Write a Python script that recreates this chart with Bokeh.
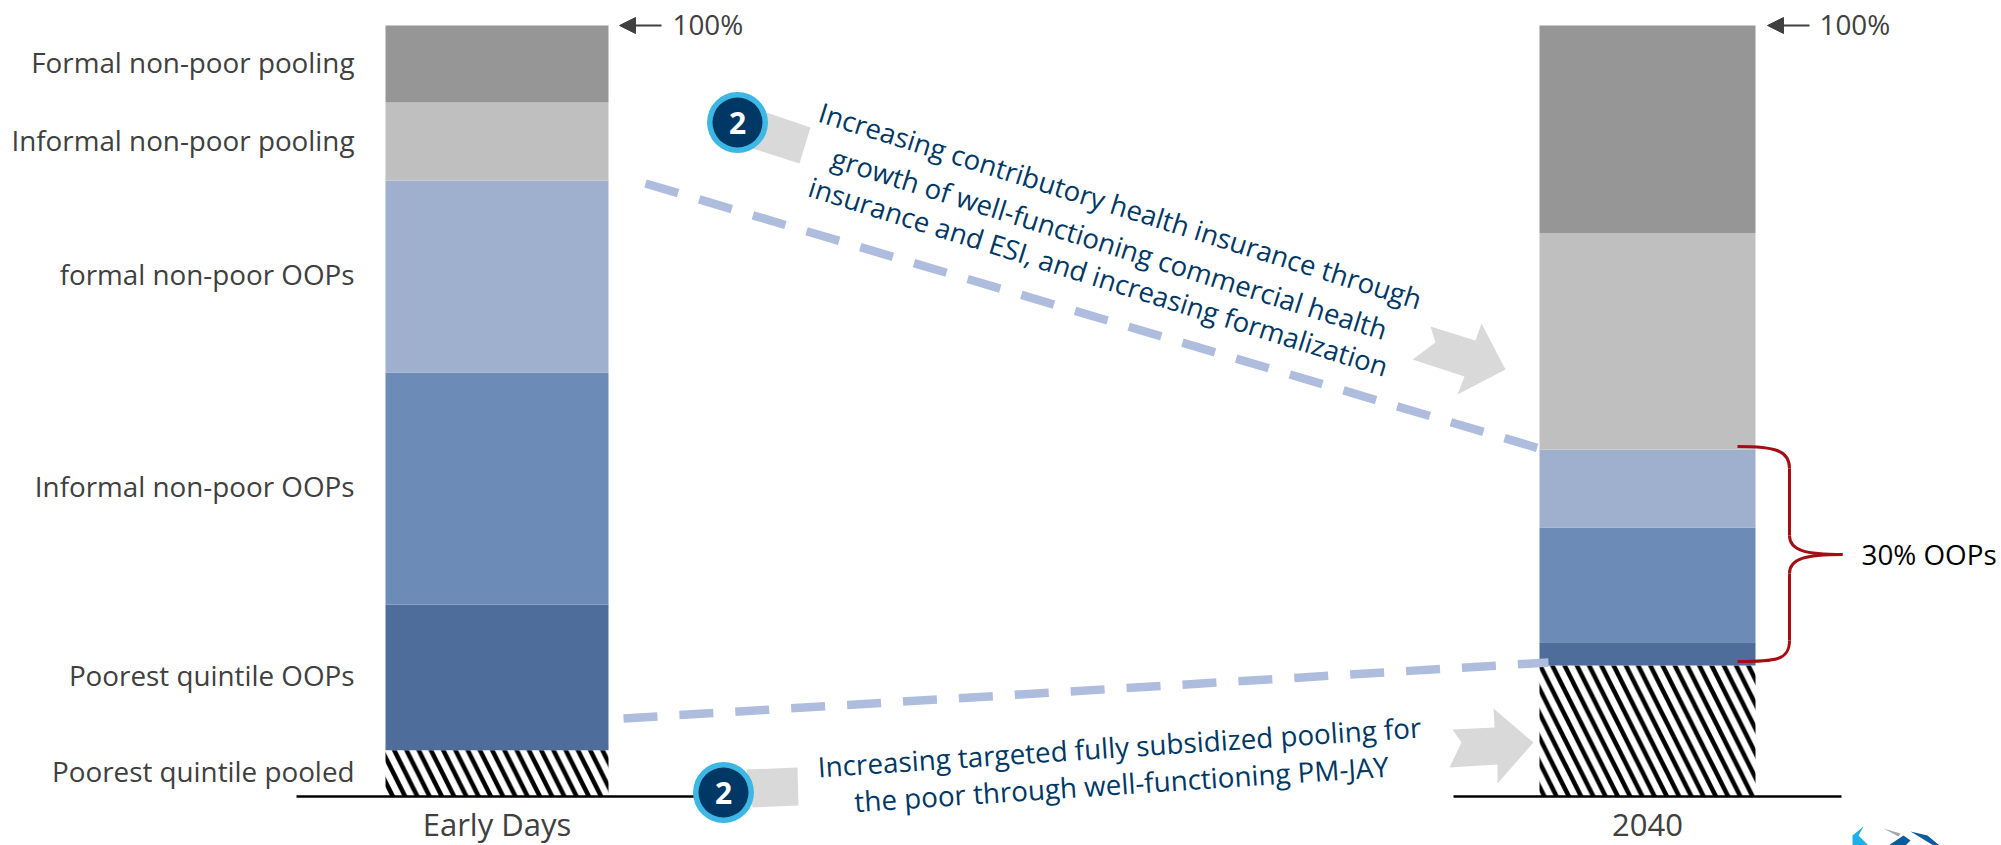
import numpy as np
from bokeh.plotting import figure
from bokeh.models import Range1d, FixedTicker, Arrow, NormalHead
from bokeh.core.properties import value
from bokeh.embed import file_html
from bokeh.resources import INLINE

periods = ["Early Days", "2040"]
segments = ["Poorest quintile pooled", "Poorest quintile OOPs", "Informal non-poor OOPs",
            "formal non-poor OOPs", "Informal non-poor pooling", "Formal non-poor pooling"]
early_days = [6.0, 18.9, 30.1, 24.9, 10.1, 10.0]
y2040 = [17.0, 3.0, 14.9, 10.1, 28.1, 26.9]
colors = ["#FFFFFF", "#4F6D9B", "#6D8BB7", "#9EB0CE", "#BFBFBF", "#969696"]
top_label = "100%"
brace_label = "30% OOPs"
note_top = ["Increasing contributory health insurance through",
            "growth of well-functioning commercial health",
            "insurance and ESI, and increasing formalization"]
note_bottom = ["Increasing targeted fully subsidized pooling for",
               "the poor through well-functioning PM-JAY"]

W, H = 2001, 845
FONT = "Open Sans"
SIZE = "27.8px"
def Y(py):  # picture pixel -> percent
    return (796 - py) / 7.71

p = figure(width=W, height=H, output_backend="svg", toolbar_location=None,
           x_range=Range1d(0, W), y_range=Range1d(Y(H), Y(0)),
           min_border=0, outline_line_color=None)
p.grid.visible = False
p.yaxis.visible = False
ax = p.xaxis[0]
ax.fixed_location = 0
ax.axis_line_color = None
ax.major_tick_line_color = None
ax.minor_tick_line_color = None

centers = [496.5, 1647]
widths = [223, 216]
ax.ticker = FixedTicker(ticks=centers)
ax.major_label_overrides = {centers[0]: periods[0], centers[1]: periods[1]}
ax.major_label_text_font = FONT
ax.major_label_text_font_size = "31px"
ax.major_label_text_color = "#404040"
ax.major_label_standoff = 0

# stacked bars
for c, w, vals in zip(centers, widths, [early_days, y2040]):
    tops = np.cumsum(vals)
    bottoms = tops - np.array(vals)
    for i, (b, t) in enumerate(zip(bottoms, tops)):
        if i == 0:
            p.quad(left=c - w / 2, right=c + w / 2, bottom=b, top=t, fill_color="#FFFFFF",
                   line_color=None, hatch_pattern="left_diagonal_line", hatch_color="#000000",
                   hatch_weight=4.5, hatch_scale=24.5)
        else:
            p.quad(left=c - w / 2, right=c + w / 2, bottom=b, top=t, fill_color=colors[i], line_color=None)

# baseline
p.segment([296, 1453], [0, 0], [695, 1841], [0, 0], line_color="#000000", line_width=2.5)

# segment labels
tops = np.cumsum(early_days)
mids = tops - np.array(early_days) / 2
p.text(x=[354] * 6, y=mids, text=segments, text_align="right", text_baseline="middle", y_offset=-2,
       text_font=value(FONT), text_font_size=SIZE, text_color="#404040")

# 100% markers
for x0, x1 in [(661, 619), (1809, 1767)]:
    p.add_layout(Arrow(end=NormalHead(size=16, fill_color="#404040", line_color="#404040"),
                       x_start=x0, y_start=100, x_end=x1, y_end=100,
                       line_color="#404040", line_width=2))
p.text(x=[672, 1819], y=[100, 100], text=[top_label] * 2, text_baseline="middle", y_offset=-2,
       text_font=value(FONT), text_font_size=SIZE, text_color="#404040")

# grey block arrows and tails
def poly(pts):
    return [a for a, _ in pts], [Y(b) for _, b in pts]
shapes = [
    [(1452, 729), (1494, 727), (1493, 708), (1533, 742), (1497, 783), (1497, 764), (1449, 767), (1461, 742)],
    [(1430, 326), (1475, 340), (1481, 323), (1505, 369), (1457, 394), (1464, 376), (1412, 359), (1435, 342)],
    [(766, 112), (810, 127), (799, 163), (752, 148)],
    [(746, 769), (797, 767), (798, 805), (752, 807)],
]
for s in shapes:
    xs, ys = poly(s)
    p.patch(xs, ys, fill_color="#D9D9D9", line_color=None)

# dashed connectors
p.line([645, 1539], [Y(183), Y(448)], line_color="#AEBDDD", line_width=8.5, line_dash="34 22")
p.line([623, 1548], [Y(718), Y(662)], line_color="#AEBDDD", line_width=8.5, line_dash="34 22")

# badges
bx, by = [737, 723], [Y(122), Y(792)]
p.scatter(bx, by, size=61, marker="circle", fill_color="#3DB7E4", line_color=None)
p.scatter(bx, by, size=50, marker="circle", fill_color="#003865", line_color=None)
p.text(x=bx, y=by, text=["2", "2"], text_align="center", text_baseline="middle",
       text_font=value(FONT), text_font_style="bold", text_font_size="30px", text_color="#FFFFFF")

# rotated notes
p.text(x=[1120, 1109, 1098], y=[Y(205), Y(243), Y(276)], text=note_top,
       angle=[-17.4 * np.pi / 180] * 3, text_align="center", text_baseline="middle",
       text_font=value(FONT), text_font_size="27.5px", text_color="#003865")
p.text(x=[1119, 1121], y=[Y(746), Y(783)], text=note_bottom,
       angle=[3.8 * np.pi / 180] * 2, text_align="center", text_baseline="middle",
       text_font=value(FONT), text_font_size=SIZE, text_color="#003865")

# brace
bz = dict(line_color="#A50D14", line_width=3)
p.bezier(x0=[1737, 1842, 1842, 1737], y0=[Y(446), Y(554), Y(554), Y(661)],
         x1=[1789, 1789, 1789, 1789], y1=[Y(468), Y(535), Y(573), Y(640)],
         cx0=[1775, 1805, 1805, 1775], cy0=[Y(446), Y(554), Y(554), Y(661)],
         cx1=[1789, 1789, 1789, 1789], cy1=[Y(450), Y(550), Y(558), Y(660)], **bz)
p.segment([1789, 1789], [Y(468), Y(573)], [1789, 1789], [Y(535), Y(640)], **bz)
p.text(x=[1861], y=[Y(554)], text=[brace_label], text_baseline="middle", y_offset=-1,
       text_font=value(FONT), text_font_size=SIZE, text_color="#000000")

# logo fragment at the lower edge
logo = [
    ([(1852, 845), (1852, 835), (1863, 826), (1858, 835), (1868, 845)], "#1BB1E6"),
    ([(1883, 828), (1900, 833), (1898, 836)], "#A6A6A6"),
    ([(1910, 831), (1927, 835), (1939, 845), (1933, 845), (1920, 837)], "#0B5C9E"),
    ([(1888, 845), (1903, 835), (1910, 840), (1905, 845)], "#0B5C9E"),
]
for s, col in logo:
    xs, ys = poly(s)
    p.patch(xs, ys, fill_color=col, line_color=None)

open("out.html", "w").write(file_html(p, INLINE))
